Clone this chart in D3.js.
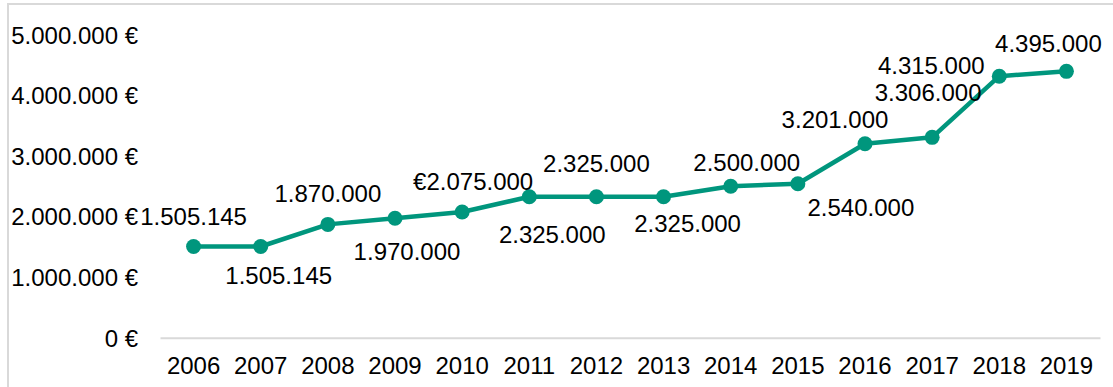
<!DOCTYPE html>
<html>
<head>
<meta charset="utf-8">
<script src="https://cdn.jsdelivr.net/npm/d3@7"></script>
<style>
  html, body { margin: 0; padding: 0; background: #fff; }
  svg { display: block; font-family: "Liberation Sans", Arial, sans-serif; }
</style>
</head>
<body>
<svg id="chart" width="1113" height="387"></svg>
<script>
// Annual budget, 2006–2019
const years = ["2006","2007","2008","2009","2010","2011","2012","2013","2014","2015","2016","2017","2018","2019"];
const amounts = [1505145, 1505145, 1870000, 1970000, 2075000, 2325000, 2325000, 2325000, 2500000, 2540000, 3201000, 3306000, 4315000, 4395000];
const labelPrefix = ["", "", "", "", "€", "", "", "", "", "", "", "", "", ""];
const yTicks = [0, 1000000, 2000000, 3000000, 4000000, 5000000];

// Label placement relative to each point (dx, dy of the text centre)
const labelOffsets = [
  [0, -30], [18, 29], [0, -31], [12, 33], [11, -30], [23, 38], [0, -33],
  [24, 27], [16, -24], [63, 24], [-30, -24], [-4, -45], [-68, -11], [-18, -28]
];

const euro = d3.formatLocale({ decimal: ",", thousands: ".", grouping: [3], currency: ["", " €"] });
const fmtNum = euro.format(",.0f");
const fmtAxis = v => fmtNum(v) + " €";

const svg = d3.select("#chart");
const color = "#00967D";
const fontSize = 24;

// Chart frame
svg.append("rect")
  .attr("x", 8).attr("y", 4)
  .attr("width", 1200).attr("height", 500)
  .attr("fill", "none").attr("stroke", "#d9d9d9").attr("stroke-width", 2);

const x = d3.scaleBand().domain(years).range([160, 1100]).padding(0);
const cx = d => x(d) + x.bandwidth() / 2;
const y = d3.scaleLinear().domain([0, 5000000]).range([337.7, 34.7]);

// Y axis labels
const yAxis = d3.axisLeft(y).tickValues(yTicks).tickFormat(fmtAxis).tickSize(0).tickPadding(0);
const gy = svg.append("g").attr("transform", "translate(138,0)").call(yAxis);
gy.select(".domain").remove();
gy.selectAll("text")
  .attr("font-family", "Liberation Sans, Arial, sans-serif")
  .attr("font-size", fontSize).attr("fill", "#000")
  .attr("dy", "0.35em");

// X axis line and labels
const xAxis = d3.axisBottom(x).tickSize(0).tickPadding(0);
const gx = svg.append("g").attr("transform", `translate(0,${y(0)})`).call(xAxis);
gx.select(".domain").attr("stroke", "#d9d9d9").attr("stroke-width", 2);
gx.selectAll("text")
  .attr("font-family", "Liberation Sans, Arial, sans-serif")
  .attr("font-size", fontSize).attr("fill", "#000")
  .attr("y", 28).attr("dy", "0.35em");

const data = years.map((yr, i) => ({ yr, v: amounts[i], prefix: labelPrefix[i], off: labelOffsets[i] }));

// Line
svg.append("path")
  .datum(data)
  .attr("fill", "none").attr("stroke", color).attr("stroke-width", 4.5)
  .attr("stroke-linejoin", "round")
  .attr("d", d3.line().x(d => cx(d.yr)).y(d => y(d.v)));

// Markers
svg.append("g").selectAll("circle").data(data).join("circle")
  .attr("cx", d => cx(d.yr)).attr("cy", d => y(d.v))
  .attr("r", 7.5).attr("fill", color);

// Value labels
svg.append("g").selectAll("text").data(data).join("text")
  .attr("x", d => cx(d.yr) + d.off[0])
  .attr("y", d => y(d.v) + d.off[1])
  .attr("dy", "0.35em")
  .attr("text-anchor", "middle")
  .attr("font-size", fontSize).attr("fill", "#000")
  .text(d => d.prefix + fmtNum(d.v));
</script>
</body>
</html>
